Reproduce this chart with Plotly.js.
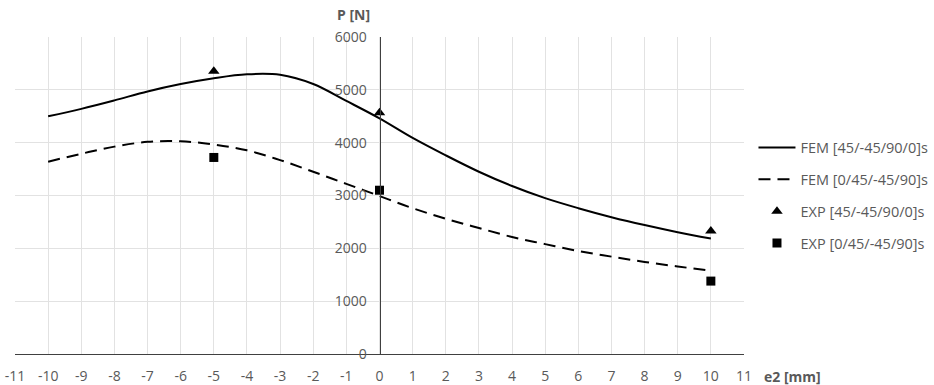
<!DOCTYPE html>
<html>
<head>
<meta charset="utf-8">
<script src="https://cdn.plot.ly/plotly-3.0.1.min.js"></script>
<style>html,body{margin:0;padding:0;background:#fff}#chart{width:934px;height:385px}</style>
</head>
<body>
<div id="chart"></div>
<script>
// FEM curves, read at integer e2 values
const femX = [-10,-9,-8,-7,-6,-5,-4,-3,-2,-1,0,1,2,3,4,5,6,7,8,9,10];
const femA = [4500,4640,4800,4970,5110,5220,5295,5285,5110,4790,4460,4090,3760,3450,3180,2950,2760,2590,2440,2305,2185];
const femB = [3640,3790,3925,4015,4025,3965,3855,3670,3450,3220,2990,2760,2560,2385,2215,2080,1950,1843,1743,1657,1575];
// Experimental points
const expX = [-5,0,10];
const expA = [5350,4565,2330];
const expB = [3720,3100,1380];
// Axis tick labels (hyphen-minus as in the original)
const xTickVals = [-11,-10,-9,-8,-7,-6,-5,-4,-3,-2,-1,0,1,2,3,4,5,6,7,8,9,10,11];
const xTickText = ["-11","-10","-9","-8","-7","-6","-5","-4","-3","-2","-1","0","1","2","3","4","5","6","7","8","9","10","11"];
const yTickVals = [0,1000,2000,3000,4000,5000,6000];
const yTickText = ["0","1000","2000","3000","4000","5000","6000"];

const names = ["FEM [45/-45/90/0]s","FEM [0/45/-45/90]s","EXP [45/-45/90/0]s","EXP [0/45/-45/90]s"];
const FONT = "Open Sans";
const GRAY = "#595959";

const traces = [
  {x: femX, y: femA, name: names[0], mode: "lines", line: {color: "#000", width: 2, shape: "spline", smoothing: 1}, legendgroup: "a"},
  {x: femX, y: femB, name: names[1], mode: "lines", line: {color: "#000", width: 2, dash: "12px,7px", shape: "spline", smoothing: 1}, legendgroup: "b"},
  {x: expX, y: expA, name: names[2], mode: "markers", marker: {symbol: "triangle-up", size: 10, color: "#000"}, legendgroup: "c"},
  {x: expX, y: expB, name: names[3], mode: "markers", marker: {symbol: "square", size: 9, color: "#000"}, legendgroup: "d"}
];

const layout = {
  width: 934, height: 385,
  margin: {l: 15, r: 190, t: 37, b: 31, autoexpand: false},
  paper_bgcolor: "#fff", plot_bgcolor: "#fff",
  font: {family: FONT, size: 14, color: GRAY},
  showlegend: true,
  legend: {x: 1.013, xanchor: "left", y: 0.5, yanchor: "middle", traceorder: "grouped", tracegroupgap: 10,
           itemwidth: 37,
           font: {family: FONT, size: 14.5, color: GRAY}, bgcolor: "rgba(0,0,0,0)"},
  xaxis: {range: [-11, 11], tickmode: "array", tickvals: xTickVals, ticktext: xTickText,
          showgrid: true, gridcolor: "#e2e2e2", gridwidth: 1,
          zeroline: false, showline: true, linecolor: "#404040", linewidth: 1, ticks: "",
          ticklabelstandoff: 9, tickfont: {family: FONT, size: 14, color: GRAY}},
  yaxis: {range: [0, 6000], tickmode: "array", tickvals: yTickVals, ticktext: yTickText,
          showgrid: true, gridcolor: "#e2e2e2", gridwidth: 1,
          zeroline: false, showline: true, linecolor: "#404040", linewidth: 1, ticks: "",
          anchor: "free", position: 0.5, ticklabelstandoff: 10,
          tickfont: {family: FONT, size: 14, color: GRAY}},
  annotations: [
    {text: "<b>P [N]</b>", xref: "x", x: 0, xanchor: "right", xshift: -8, yref: "paper", y: 1, yanchor: "bottom", yshift: 11,
     showarrow: false, font: {family: FONT, size: 14, color: GRAY}},
    {text: "<b>e2 [mm]</b>", xref: "paper", x: 1, xanchor: "left", xshift: 18, yref: "paper", y: 0, yanchor: "top", yshift: -11,
     showarrow: false, font: {family: FONT, size: 14, color: GRAY}}
  ]
};

Plotly.newPlot("chart", traces, layout, {staticPlot: true, displayModeBar: false});
</script>
</body>
</html>
